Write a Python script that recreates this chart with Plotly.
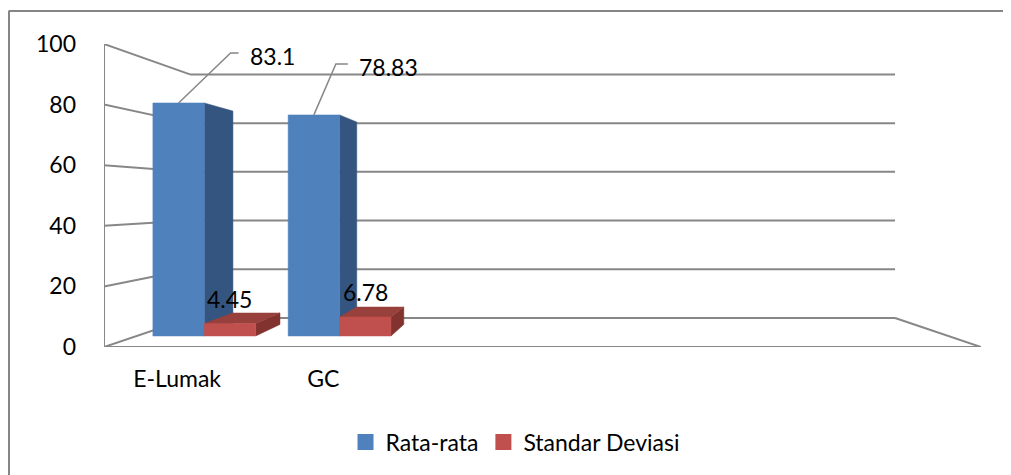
import plotly.graph_objects as go

# ---------------- data ----------------
categories = ["E-Lumak", "GC", "", "", "", ""]   # six category slots on the axis
series_names = ["Rata-rata", "Standar Deviasi"]
rata_rata = [83.1, 78.83]
standar_deviasi = [4.45, 6.78]
y_ticks = [0, 20, 40, 60, 80, 100]

# ---------------- style / 3D geometry ----------------
OFF = 8                      # page body margin
W, H = 1011 - OFF, 475 - OFF
ML, MT = 104 - OFF, 44 - OFF
MR, MB = W - (981 - OFF), H - (347 - OFF)
PW, PH = W - ML - MR, H - MT - MB
N = len(categories)
YMAX = 100
PX_X = PW / N          # pixels per category unit
PX_Y = PH / YMAX       # pixels per value unit

XV, VV = 3.0, 48.8     # vanishing point in (category, value) units
K = 0.2438             # depth perspective factor (back plane scale 0.804)
Z0, Z1 = 0.33, 0.74    # bar depth (front/back) in floor depth units
GAP = 0.12
BW = (1 - 2 * GAP) / 2

GRID = "#878787"
FONT = "Lato"
FS = 23
colors = {
    "Rata-rata": {"front": "#4F81BD", "side": "#34557F", "top": "#5B8AC4"},
    "Standar Deviasi": {"front": "#C0504D", "side": "#83332F", "top": "#98403C"},
}


def proj(X, V, z):
    s = 1.0 / (1.0 + K * z)
    return XV + s * (X - XV), VV + s * (V - VV)


def px_to_paper_x(px):
    return (px - OFF - ML) / PW


def px_to_paper_y(py):
    return (H - MB - (py - OFF)) / PH


fig = go.Figure()


def line(pts, color=GRID, width=2):
    xs = [p[0] for p in pts]
    ys = [p[1] for p in pts]
    fig.add_trace(go.Scatter(x=xs, y=ys, mode="lines", line=dict(color=color, width=width),
                             hoverinfo="skip", showlegend=False, cliponaxis=False))


def poly(pts, color):
    xs = [p[0] for p in pts] + [pts[0][0]]
    ys = [p[1] for p in pts] + [pts[0][1]]
    fig.add_trace(go.Scatter(x=xs, y=ys, mode="lines", fill="toself", fillcolor=color,
                             line=dict(color=color, width=0.5), hoverinfo="skip",
                             showlegend=False, cliponaxis=False))


# back wall gridlines + side wall lines
for v in y_ticks:
    line([proj(0, v, 1), proj(N, v, 1)])
    line([proj(0, v, 0), proj(0, v, 1)])
# left wall front edge (value axis)
line([proj(0, 0, 0), proj(0, YMAX, 0)])
# floor front edge and right edge
line([proj(0, 0, 0), proj(N, 0, 0)])
line([proj(N, 0, 0), proj(N, 0, 1)])

# bars
series_vals = [rata_rata, standar_deviasi]
label_info = []
for i in range(len(rata_rata)):
    for j, name in enumerate(series_names):
        v = series_vals[j][i]
        c = colors[name]
        x0 = i + GAP + j * BW
        x1 = x0 + BW
        # side face
        xs = x1 if x1 < XV else x0
        poly([proj(xs, 0, Z0), proj(xs, 0, Z1), proj(xs, v, Z1), proj(xs, v, Z0)], c["side"])
        # top face (visible when below eye level)
        if v < VV:
            poly([proj(x0, v, Z0), proj(x1, v, Z0), proj(x1, v, Z1), proj(x0, v, Z1)], c["top"])
        # front face
        poly([proj(x0, 0, Z0), proj(x1, 0, Z0), proj(x1, v, Z0), proj(x0, v, Z0)], c["front"])
        label_info.append((i, j, v, x0, x1))

# data labels (pixel offsets for label placement)
leader_offsets = {  # (elbow dx, elbow dy, end dx, text dx, text dy) in px
    (0, 0): (52, -50, 60, 69, -47),
    (1, 0): (22, -51, 34, 43, -48),
}
for (i, j, v, x0, x1) in label_info:
    txt = f"{v:g}"
    if j == 0:
        tx, ty = proj((x0 + x1) / 2, v, Z0)
        ex, ey, endx, tdx, tdy = leader_offsets[(i, j)]
        line([(tx, ty), (tx + ex / PX_X, ty - ey / PX_Y), (tx + endx / PX_X, ty - ey / PX_Y)],
             color=GRID, width=1.5)
        fig.add_annotation(x=tx + tdx / PX_X, y=ty - tdy / PX_Y, text=txt, showarrow=False,
                           xanchor="left", yanchor="middle",
                           font=dict(family=FONT, size=FS, color="#000000"))
    else:
        fx, fy = proj(x0, v, Z0)
        fig.add_annotation(x=fx + 1 / PX_X, y=fy + 25 / PX_Y, text=txt, showarrow=False,
                           xanchor="left", yanchor="middle",
                           font=dict(family=FONT, size=FS, color="#000000"))

# legend entries
for name in series_names:
    fig.add_trace(go.Scatter(x=[None], y=[None], mode="markers", name=name,
                             marker=dict(symbol="square", size=16, color=colors[name]["front"])))

# chart border (top and left edges visible)
fig.add_shape(type="line", xref="paper", yref="paper",
              x0=px_to_paper_x(8.5), x1=px_to_paper_x(1010), y0=px_to_paper_y(11), y1=px_to_paper_y(11),
              line=dict(color="#868686", width=2))
fig.add_shape(type="line", xref="paper", yref="paper",
              x0=px_to_paper_x(9), x1=px_to_paper_x(9), y0=px_to_paper_y(11), y1=px_to_paper_y(476),
              line=dict(color="#868686", width=2))

fig.update_layout(
    width=W, height=H,
    margin=dict(l=ML, r=MR, t=MT, b=MB),
    paper_bgcolor="white", plot_bgcolor="white",
    font=dict(family=FONT, size=FS, color="#000000"),
    showlegend=True,
    legend=dict(orientation="h", x=px_to_paper_x(515), y=px_to_paper_y(442),
                xanchor="center", yanchor="middle", font=dict(family=FONT, size=FS),
                itemsizing="trace", bgcolor="rgba(0,0,0,0)"),
    xaxis=dict(range=[0, N], tickvals=[k + 0.5 for k in range(N)], ticktext=categories,
               showgrid=False, zeroline=False, showline=False, ticks="",
               ticklabelstandoff=16, fixedrange=True),
    yaxis=dict(range=[0, YMAX], tickvals=y_ticks, ticktext=[str(t) for t in y_ticks],
               showgrid=False, zeroline=False, showline=False, ticks="",
               ticklabelstandoff=27, fixedrange=True),
)

fig.write_html("out.html", config={"displayModeBar": False})
